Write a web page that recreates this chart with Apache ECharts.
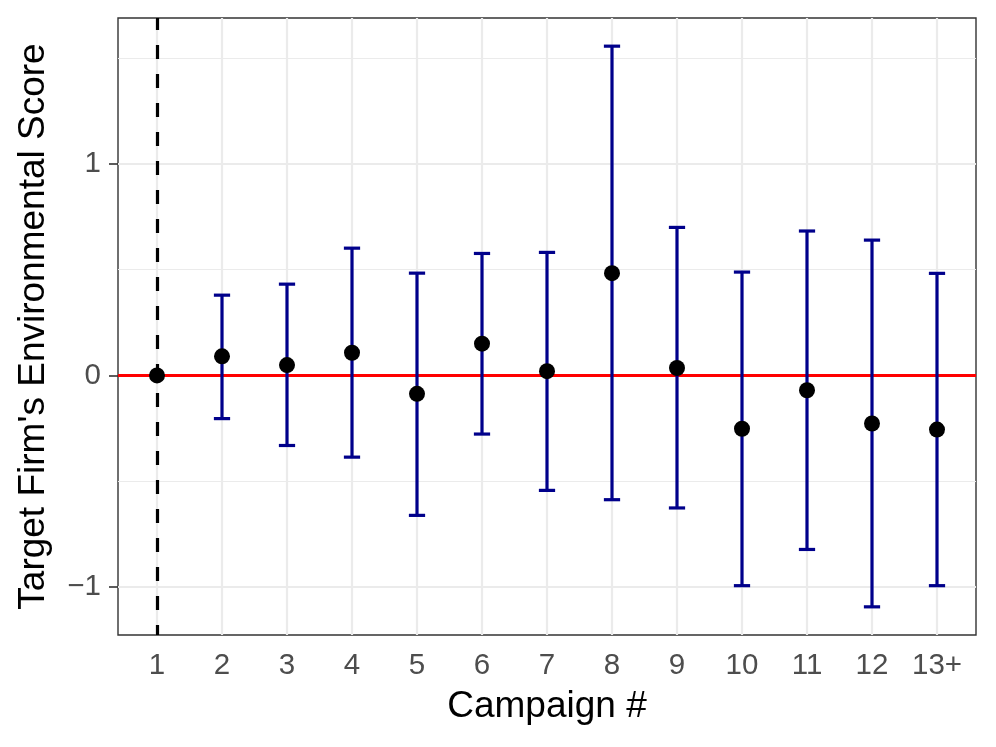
<!DOCTYPE html>
<html>
<head>
<meta charset="utf-8">
<script src="https://cdn.jsdelivr.net/npm/echarts@6/dist/echarts.min.js"></script>
<style>
html,body{margin:0;padding:0;background:#fff;}
#chart{width:996px;height:747px;}
</style>
</head>
<body>
<div id="chart"></div>
<script>
const categories = ['1','2','3','4','5','6','7','8','9','10','11','12','13+'];
const estimate = [0, 0.090, 0.049, 0.107, -0.087, 0.150, 0.020, 0.483, 0.035, -0.252, -0.070, -0.227, -0.256];
const lower = [null, -0.204, -0.331, -0.386, -0.661, -0.277, -0.543, -0.587, -0.626, -0.993, -0.822, -1.093, -0.993];
const upper = [null, 0.379, 0.431, 0.601, 0.483, 0.576, 0.581, 1.555, 0.699, 0.488, 0.682, 0.639, 0.482];
const yTicks = [-1, 0, 1];
const yMinor = [-0.5, 0.5, 1.5];
const refY = 0;
const refX = 1;

const xPos = categories.map((c, i) => i + 1);
const pointData = estimate.map((v, i) => [xPos[i], v]);
const barData = [];
lower.forEach((lo, i) => { if (lo !== null && upper[i] !== null) barData.push([xPos[i], lo, upper[i]]); });

const chart = echarts.init(document.getElementById('chart'));
const FONT = 'Liberation Sans, Arial, Helvetica, sans-serif';
const tickFont = {fontFamily: FONT, fontSize: 29.5, color: '#4d4d4d'};
const titleFont = {fontFamily: FONT, fontSize: 37, color: '#000'};

const gridLines = [];
xPos.forEach(x => gridLines.push({xAxis: x, lineStyle: {color: '#ebebeb', width: 2.2, type: 'solid'}}));
yMinor.forEach(y => gridLines.push({yAxis: y, lineStyle: {color: '#ebebeb', width: 1.1, type: 'solid'}}));
yTicks.forEach(y => gridLines.push({yAxis: y, lineStyle: {color: '#ebebeb', width: 2.2, type: 'solid'}}));

chart.setOption({
  animation: false,
  backgroundColor: '#fff',
  grid: {left: 118, right: 20, top: 18, bottom: 112, show: true, borderColor: '#333333', borderWidth: 1.4, backgroundColor: '#fff'},
  xAxis: {
    type: 'value', min: 0.4, max: 13.6,
    name: 'Campaign #', nameLocation: 'middle', nameGap: 53, nameTextStyle: titleFont,
    axisLine: {show: false},
    axisTick: {show: true, length: 9, customValues: xPos, lineStyle: {color: '#333333', width: 1.6}},
    axisLabel: Object.assign({customValues: xPos, margin: 16, formatter: v => categories[Math.round(v) - 1] || ''}, tickFont),
    splitLine: {show: false}
  },
  yAxis: {
    type: 'value', min: -1.226, max: 1.688,
    name: "Target Firm's Environmental Score", nameLocation: 'middle', nameGap: 66, nameTextStyle: titleFont,
    axisLine: {show: false},
    axisTick: {show: true, length: 9, customValues: yTicks, lineStyle: {color: '#333333', width: 1.6}},
    axisLabel: Object.assign({customValues: yTicks, margin: 17, formatter: v => (v < 0 ? '\u2212' + Math.abs(v) : String(v))}, tickFont),
    splitLine: {show: false}
  },
  series: [
    {
      type: 'scatter', data: [], z: 1, silent: true,
      markLine: {z: 1, silent: true, symbol: 'none', label: {show: false}, emphasis: {disabled: true}, data: gridLines}
    },
    {
      type: 'scatter', data: [], z: 2, silent: true,
      markLine: {z: 2, silent: true, symbol: 'none', label: {show: false}, emphasis: {disabled: true},
        data: [
          {yAxis: refY, lineStyle: {color: '#ff0000', width: 3, type: 'solid'}},
          {xAxis: refX, lineStyle: {color: '#000000', width: 3.2, type: [14, 15], dashOffset: 4}}
        ]}
    },
    {
      type: 'custom', z: 3, silent: true, data: barData,
      encode: {x: 0, y: [1, 2]},
      renderItem: function (params, api) {
        const x = api.value(0), lo = api.value(1), hi = api.value(2);
        const half = 0.125;
        const top = api.coord([x, hi]), bot = api.coord([x, lo]);
        const tl = api.coord([x - half, hi]), tr = api.coord([x + half, hi]);
        const bl = api.coord([x - half, lo]), br = api.coord([x + half, lo]);
        const mk = () => ({stroke: '#00008b', lineWidth: 3.2, fill: null});
        return {type: 'group', children: [
          {type: 'line', shape: {x1: top[0], y1: top[1], x2: bot[0], y2: bot[1]}, style: mk()},
          {type: 'line', shape: {x1: tl[0], y1: tl[1], x2: tr[0], y2: tr[1]}, style: mk()},
          {type: 'line', shape: {x1: bl[0], y1: bl[1], x2: br[0], y2: br[1]}, style: mk()}
        ]};
      }
    },
    {
      type: 'scatter', z: 4, silent: true, data: pointData,
      symbol: 'circle', symbolSize: 16, itemStyle: {color: '#000', opacity: 1}
    }
  ]
});
</script>
</body>
</html>
